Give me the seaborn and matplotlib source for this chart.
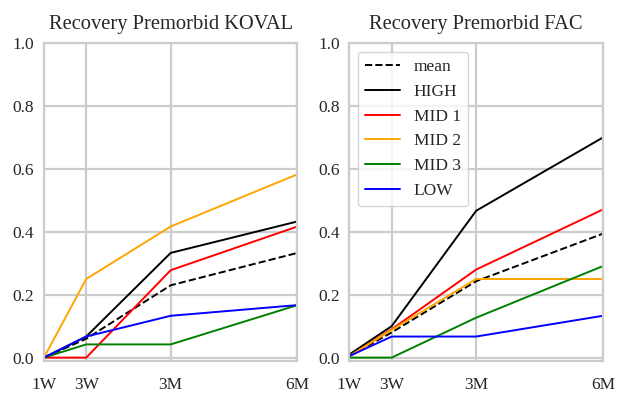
import matplotlib
matplotlib.use("Agg")
import matplotlib.pyplot as plt
import seaborn as sns
import pandas as pd

timepoints = [0, 1, 3, 6]
tick_labels = ["1W", "3W", "3M", "6M"]
series_names = ["mean", "HIGH", "MID 1", "MID 2", "MID 3", "LOW"]
colors = ["black", "black", "red", "orange", "green", "blue"]
styles = ["--", "-", "-", "-", "-", "-"]

koval_mean = [0.0, 0.06, 0.23, 0.333]
koval_high = [0.0, 0.067, 0.333, 0.433]
koval_mid1 = [0.0, 0.0, 0.278, 0.417]
koval_mid2 = [0.0, 0.25, 0.417, 0.583]
koval_mid3 = [0.0, 0.042, 0.042, 0.167]
koval_low = [0.0, 0.067, 0.133, 0.167]

fac_mean = [0.005, 0.08, 0.243, 0.394]
fac_high = [0.01, 0.1, 0.467, 0.7]
fac_mid1 = [0.005, 0.09, 0.28, 0.471]
fac_mid2 = [0.005, 0.088, 0.25, 0.25]
fac_mid3 = [0.0, 0.0, 0.127, 0.291]
fac_low = [0.005, 0.067, 0.067, 0.133]

panels = [
    ("Recovery Premorbid KOVAL", [koval_mean, koval_high, koval_mid1, koval_mid2, koval_mid3, koval_low]),
    ("Recovery Premorbid FAC", [fac_mean, fac_high, fac_mid1, fac_mid2, fac_mid3, fac_low]),
]

sns.set_theme(style="whitegrid")
plt.rcParams["font.family"] = ["Liberation Serif", "DejaVu Serif"]
plt.rcParams["axes.edgecolor"] = "0.8"
plt.rcParams["axes.linewidth"] = 1.6
plt.rcParams["grid.linewidth"] = 1.6

fig, axes = plt.subplots(1, 2, figsize=(6.19, 3.96), dpi=100)
fig.subplots_adjust(left=0.071, right=0.974, top=0.891, bottom=0.089, wspace=0.205)

for ax, (title, data) in zip(axes, panels):
    for name, vals, c, ls in zip(series_names, data, colors, styles):
        df = pd.DataFrame({"t": timepoints, "v": vals})
        sns.lineplot(data=df, x="t", y="v", ax=ax, color=c, linestyle=ls,
                     linewidth=1.4, label=name, legend=False)
    ax.set_title(title, fontsize=14.8, pad=10)
    ax.set_xlim(0, 6)
    ax.set_ylim(-0.01, 1.0)
    ax.set_xticks(timepoints)
    ax.set_xticklabels(tick_labels)
    ax.set_yticks([0.0, 0.2, 0.4, 0.6, 0.8, 1.0])
    ax.set_yticklabels(["0.0", "0.2", "0.4", "0.6", "0.8", "1.0"])
    ax.tick_params(axis="x", length=0, pad=11.5, labelsize=12.5)
    ax.tick_params(axis="y", length=0, pad=7, labelsize=12.5)
    ax.set_xlabel("")
    ax.set_ylabel("")

axes[1].legend(loc="upper left", fontsize=12.5)

fig.savefig("out.png", dpi=100)
